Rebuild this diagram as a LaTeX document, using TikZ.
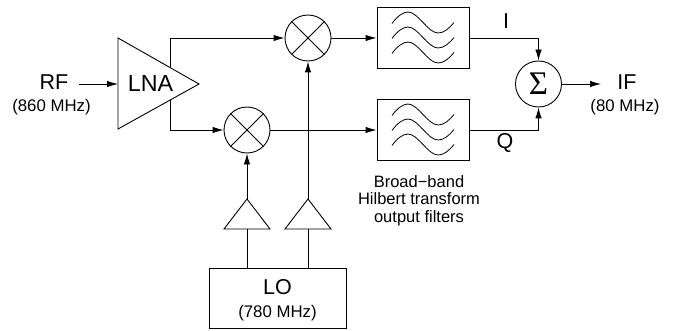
\documentclass[tikz,border=0pt]{standalone}
\usepackage{fontspec}
\setmainfont{Liberation Sans}
\newfontfamily\sigmafont{Liberation Serif}
\usetikzlibrary{arrows.meta}
\tikzset{
  wire/.style={draw=black,line width=0.9pt},
  sig/.style={wire,-{Latex[length=11pt,width=6.5pt]}},
  mixer/.style={circle,draw=black,line width=0.9pt,minimum size=46pt,inner sep=0pt},
  sumblock/.style={circle,draw=black,line width=0.9pt,minimum size=46pt,inner sep=0pt},
  filterbox/.style={rectangle,draw=black,line width=0.9pt,minimum width=92pt,minimum height=61pt,inner sep=0pt},
  lobox/.style={rectangle,draw=black,line width=0.9pt,minimum width=137pt,minimum height=60pt,inner sep=0pt},
  big/.style={inner sep=0pt,font=\fontsize{21.5}{24}\selectfont},
  small/.style={inner sep=0pt,font=\fontsize{16.8}{19}\selectfont},
  note/.style={inner sep=0pt,align=center,font=\fontsize{16.5}{17.4}\selectfont}
}
\newcommand{\mixcross}[1]{\draw[wire] (#1.45) -- (#1.225) (#1.135) -- (#1.315);}
\newcommand{\waves}[1]{%
  \foreach \d in {-15,0,15}{
    \draw[wire,line width=0.8pt,shift={(#1.center)}] (-31,\d+1) .. controls (-26,\d-6) and (-20,\d-10.5) .. (-15,\d-10.5)
      .. controls (-5,\d-10.5) and (5,\d+10.5) .. (15,\d+10.5) .. controls (21,\d+10.5) and (26,\d+6) .. (31,\d);
  }}
\begin{document}
\begin{tikzpicture}[x=1pt,y=-1pt]
\useasboundingbox[fill=white] (0,0) rectangle (676,331);
% amplifier and buffers
\coordinate (lnaTop) at (118,38);
\coordinate (lnaBot) at (118,129);
\coordinate (lnaTip) at (199,84);
\coordinate (lnaIn) at (118,84);
\coordinate (lnaUp) at (170,67.5);
\coordinate (lnaDown) at (170,100.5);
\draw[wire,line join=miter] (lnaTop) -- (lnaTip) -- (lnaBot) -- cycle;
\node[big,font=\fontsize{23.3}{24}\selectfont] (lna) at (150.5,83) {LNA};
\coordinate (bufAtip) at (247,199);
\coordinate (bufAbase) at (247,229);
\draw[wire] (bufAtip) -- (270,229) -- (224,229) -- cycle;
\coordinate (bufBtip) at (308,199);
\coordinate (bufBbase) at (308,229);
\draw[wire] (bufBtip) -- (331,229) -- (285,229) -- cycle;
% blocks
\node[mixer] (mixA) at (308,38) {};
\node[mixer] (mixB) at (247,130) {};
\mixcross{mixA}
\mixcross{mixB}
\node[filterbox] (filtA) at (423,37.5) {};
\node[filterbox] (filtB) at (423,129.5) {};
\waves{filtA}
\waves{filtB}
\node[sumblock,font=\sigmafont\fontsize{33}{33}\selectfont] (sum) at (538.5,84) {Σ};
\node[lobox] (lo) at (277.5,298) {};
% labels
\node[big] (rf) at (54,82) {RF};
\node[small] (rfsub) at (51.5,107) {(860 MHz)};
\node[big] (if) at (627,82) {IF};
\node[small] (ifsub) at (625,107) {(80 MHz)};
\node[big] (ilab) at (506,21) {I};
\node[big] (qlab) at (505,143) {Q};
\node[big] (lolab) at (277.5,287) {LO};
\node[small] (losub) at (277.5,313) {(780 MHz)};
\node[note] (hilbert) at (419,200.5) {Broad−band\\Hilbert transform\\output filters};
% connectors
\coordinate (rfOut) at (79,84);
\coordinate (ifEnd) at (601,84);
\draw[sig] (rfOut) -- (lnaIn);
\draw[sig] (lnaUp) |- (mixA.west);
\draw[sig] (lnaDown) |- (mixB.west);
\draw[sig] (mixA.east) -- (filtA.west |- mixA.east);
\draw[sig] (mixB.east) -- (filtB.west |- mixB.east);
\draw[sig] (filtA.east |- mixA.east) -| (sum.north);
\draw[sig] (filtB.east |- mixB.east) -| (sum.south);
\draw[sig] (sum.east) -- (ifEnd);
\draw[sig] (bufAtip) -- (mixB.south);
\draw[sig] (bufBtip) -- (mixA.south);
\draw[wire] (lo.north -| bufAbase) -- (bufAbase);
\draw[wire] (lo.north -| bufBbase) -- (bufBbase);
\end{tikzpicture}
\end{document}
